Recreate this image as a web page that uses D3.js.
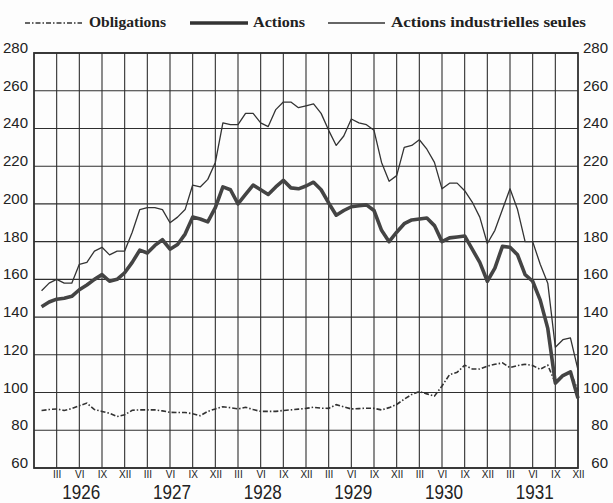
<!DOCTYPE html>
<html>
<head>
<meta charset="utf-8">
<script src="https://cdn.jsdelivr.net/npm/d3@7"></script>
<style>
  body { margin: 0; background: #fff; }
  svg { display: block; }
</style>
</head>
<body>
<svg id="chart" width="613" height="503"></svg>
<script>
// indices mensuels, janv. 1926 -> déc. 1931
const years = [1926, 1927, 1928, 1929, 1930, 1931]
const quarters = ["III", "VI", "IX", "XII"]
const yTicks = [60, 80, 100, 120, 140, 160, 180, 200, 220, 240, 260, 280]

const obligations = [
  90.5, 91, 91.3, 90.5, 91.5, 93, 94.4, 91, 90, 89, 87.3, 88.2,
  90.6, 90.8, 90.8, 90.8, 90.3, 89.5, 89.4, 89.4, 88.8, 87.7, 90, 91.3,
  92.5, 92, 91.3, 92.2, 91, 90, 90, 90, 90.5, 90.8, 91.2, 91.6,
  92.2, 91.7, 91.6, 93.6, 92.4, 91.3, 91.5, 91.7, 91.6, 90.8, 92, 93.7,
  96.5, 99, 100.5, 99.3, 98.1, 103.5, 109.5, 110.7, 114.5, 112.5, 112.5, 114,
  115, 115.7, 113.2, 114.3, 115, 114.3, 112.3, 114.5, 105, 108.5, 111, 101
]
const actions = [
  145.5, 148, 149.5, 150, 151, 154.5, 157, 160, 162.5, 159, 160, 163.5,
  169, 175.5, 174, 178, 181, 176, 178.5, 184, 193, 192, 190.5, 198,
  209, 207.5, 200, 205, 210, 207.5, 205, 209, 212.5, 208.5, 208, 209.5,
  211.5, 207.5, 200.5, 194, 196.5, 198.5, 199, 199.5, 196.5, 186, 180, 185,
  189.5, 191.5, 192, 192.5, 188.5, 180, 182, 182.5, 183, 176, 169, 159,
  166, 177.5, 177, 173, 162.5, 159, 149, 134, 105, 109, 111, 97
]
const actionsIndustrielles = [
  154, 158, 160, 158, 158, 168, 169, 175, 177, 173, 175, 175,
  185, 197, 198, 198, 197, 190, 193, 197, 210, 209, 213, 222,
  243, 242, 242, 248, 248, 243, 241, 250, 254, 254, 251, 252,
  253, 248, 239, 231, 236, 245, 243, 242, 239, 222, 212, 215,
  230, 231, 234, 229, 222, 208, 211, 211, 207, 201, 193, 179,
  186, 197, 208, 197, 180, 180, 168, 158, 124, 128, 129, 112
]

const ink = "#2f2f2f"
const svg = d3.select("#chart")

const x = d3.scaleLinear().domain([0, years.length * 12]).range([34, 578])
const y = d3.scaleLinear().domain([60, 280]).range([468, 53])

svg.append("rect").attr("width", 613).attr("height", 503).attr("fill", "#fdfdfd")

// quadrillage
const grid = svg.append("g").attr("stroke", ink).attr("stroke-width", 1.1)
grid.selectAll("line.h")
  .data(yTicks)
  .join("line")
  .attr("class", "h")
  .attr("x1", x(0)).attr("x2", x(72))
  .attr("y1", d => y(d)).attr("y2", d => y(d))
grid.selectAll("line.v")
  .data(d3.range(3, 72, 3))
  .join("line")
  .attr("class", "v")
  .attr("x1", d => x(d)).attr("x2", d => x(d))
  .attr("y1", y(280)).attr("y2", y(60))

svg.append("rect")
  .attr("x", x(0)).attr("y", y(280))
  .attr("width", x(72) - x(0)).attr("height", y(60) - y(280))
  .attr("fill", "none").attr("stroke", ink).attr("stroke-width", 1.8)

// axes
const yFont = "'Liberation Sans', Arial, sans-serif"
const leftAxis = svg.append("g")
  .attr("transform", `translate(${x(0)},0)`)
  .call(d3.axisLeft(y).tickValues(yTicks).tickSize(0).tickPadding(6))
const rightAxis = svg.append("g")
  .attr("transform", `translate(608,0)`)
  .call(d3.axisLeft(y).tickValues(yTicks).tickSize(0).tickPadding(0))
;[leftAxis, rightAxis].forEach(a => {
  a.select(".domain").remove()
  a.selectAll("text")
    .attr("dy", "-0.5")
    .attr("fill", "#222")
    .style("font-family", yFont)
    .style("font-size", "15px")
})

const bottomAxis = svg.append("g")
  .attr("transform", `translate(0,${y(60)})`)
  .call(d3.axisBottom(x)
    .tickValues(d3.range(3, 73, 3))
    .tickSize(0)
    .tickPadding(3)
    .tickFormat(d => quarters[(d / 3 - 1) % 4]))
bottomAxis.select(".domain").remove()
bottomAxis.selectAll("text")
  .attr("fill", "#222")
  .style("font-family", "'Liberation Sans Narrow', 'Liberation Sans', sans-serif")
  .style("font-size", "10px")

svg.append("g")
  .selectAll("text")
  .data(years)
  .join("text")
  .attr("x", (d, i) => x(i * 12 + 6) + 2)
  .attr("y", 499)
  .attr("text-anchor", "middle")
  .attr("textLength", 38)
  .attr("lengthAdjust", "spacingAndGlyphs")
  .attr("fill", "#222")
  .style("font-family", yFont)
  .style("font-size", "20px")
  .text(d => d)

// courbes
const line = d3.line()
  .x((d, i) => x(i + 1))
  .y(d => y(d))

svg.append("path")
  .datum(obligations)
  .attr("d", line)
  .attr("fill", "none")
  .attr("stroke", "#333")
  .attr("stroke-width", 1.6)
  .attr("stroke-dasharray", "5,2,1.5,2")

svg.append("path")
  .datum(actionsIndustrielles)
  .attr("d", line)
  .attr("fill", "none")
  .attr("stroke", "#333")
  .attr("stroke-width", 1.3)
  .attr("stroke-linejoin", "round")

svg.append("path")
  .datum(actions)
  .attr("d", line)
  .attr("fill", "none")
  .attr("stroke", "#444")
  .attr("stroke-width", 3.6)
  .attr("stroke-linejoin", "round")

// légende
const legendItems = [
  { label: "Obligations", x1: 25, x2: 82, tx: 89, tw: 77, width: 1.6, dash: "5,2,1.5,2" },
  { label: "Actions", x1: 190, x2: 248, tx: 253, tw: 52, width: 3.6, dash: null },
  { label: "Actions industrielles seules", x1: 328, x2: 385, tx: 391, tw: 195, width: 1.3, dash: null }
]
const legend = svg.append("g")
legend.selectAll("line")
  .data(legendItems)
  .join("line")
  .attr("x1", d => d.x1).attr("x2", d => d.x2)
  .attr("y1", 23).attr("y2", 23)
  .attr("stroke", "#333")
  .attr("stroke-width", d => d.width)
  .attr("stroke-dasharray", d => d.dash)
legend.selectAll("text")
  .data(legendItems)
  .join("text")
  .attr("x", d => d.tx)
  .attr("y", 27)
  .attr("textLength", d => d.tw)
  .attr("lengthAdjust", "spacingAndGlyphs")
  .attr("fill", "#222")
  .style("font-family", "'Liberation Serif', 'DejaVu Serif', serif")
  .style("font-weight", "bold")
  .style("font-size", "14px")
  .text(d => d.label)
</script>
</body>
</html>
